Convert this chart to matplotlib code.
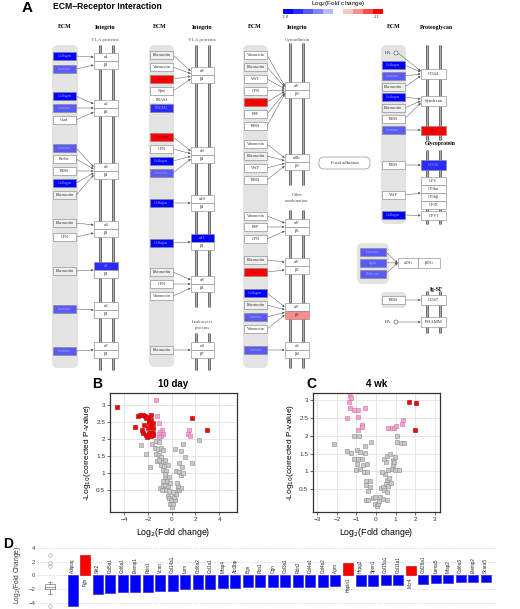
import matplotlib
matplotlib.use('Agg')
import matplotlib.pyplot as plt
import numpy as np
from matplotlib.patches import Rectangle, FancyBboxPatch, Circle
from matplotlib.colors import ListedColormap, BoundaryNorm

plt.rcParams['font.family'] = ['Liberation Sans', 'DejaVu Sans']

# ---------------- DATA ----------------
# Panel A colour key and log2 fold change of coloured pathway nodes
fc_min, fc_max = -2.8, 2.1
key_colors = ['#0000ff', '#2b2bff', '#5a5af5', '#8585f5', '#b8b8fa',
              '#ffffff', '#ffc4c4', '#ff8c8c', '#ff4a4a', '#ff0000']
fc_node = {'Collagen': -2.6, 'Laminin': -1.6, 'Tenascin': 2.0, 'FREM2': -2.0,
           'α5': -2.1, 'α11': -2.6, 'β8': 0.9, 'SV2': 2.0, 'CD36': -2.3,
           'Agrin': -1.6, 'Perlecan': -1.6}

# Panel B (10 day) volcano
b_red_x = [-4.62, 1.71, 2.94, -3.08, -2.86, -2.66, -2.44, -2.24, -2.04, -1.74, -2.16,
           -1.93, -1.71, -1.88, -1.60, -1.74, -1.54, -2.02, -2.30, -2.38, -2.16, -1.93,
           -1.74, -1.54, -2.10, -1.74, -1.54, -2.49]
b_red_y = [2.95, 2.63, 2.27, 2.35, 2.68, 2.71, 2.71, 2.68, 2.66, 2.71, 2.61,
           2.54, 2.56, 2.46, 2.48, 2.36, 2.34, 2.34, 2.41, 2.17, 2.12, 2.17,
           2.17, 2.17, 2.07, 2.09, 2.12, 2.26]
b_pink_x = [-1.30, -1.20, -1.10, -0.85, -0.95, -1.10, -0.75, -0.90, -1.05, 1.43, 1.40, 1.50]
b_pink_y = [3.15, 2.68, 2.48, 2.28, 2.20, 2.15, 2.15, 2.10, 2.05, 2.28, 2.14, 2.10]
b_gray_x = [-2.58, -2.16, -1.79, -1.32, -1.04, -1.65, -1.40, -1.18, -0.90, -0.70, -1.32,
            -1.09, -0.90, -1.26, -1.04, -0.76, -0.56, -0.87, -0.62, -0.28, -0.76, -0.48,
            -0.53, -0.70, -0.39, -0.98, -0.76, -0.56, -0.34, -0.84, -0.48, -0.20, -0.34,
            -0.20, -0.06, -0.14, 0.03, 0.14, 0.25, 0.22, 0.36, 0.14, 0.53, 0.64, 0.78,
            0.50, 0.42, 0.36, 0.64, 0.78, 0.92, 0.64, 0.87, 0.78, 0.92, 1.15, 1.71,
            2.27, 0.31, -0.14, -0.25, -0.53]
b_gray_y = [1.84, 1.56, 1.19, 1.95, 1.92, 1.87, 1.73, 1.70, 1.73, 1.68, 1.58,
            1.53, 1.48, 1.36, 1.38, 1.33, 1.40, 1.24, 1.21, 1.24, 1.09, 1.07,
            0.84, 0.79, 0.77, 0.58, 0.62, 0.65, 0.62, 0.52, 0.50, 0.48, 0.35,
            0.28, 0.21, 0.11, 0.03, 0.11, 0.21, 0.30, 0.40, 0.45, 0.55, 0.50, 0.58,
            0.62, 0.72, 1.07, 1.04, 0.94, 1.01, 1.30, 1.19, 1.66, 1.87, 1.48, 1.30,
            1.99, 1.70, 0.72, 0.89, 0.97]

# Panel C (4 wk) volcano
c_red_x = [1.69, 2.05, 2.00]
c_red_y = [2.96, 2.92, 2.16]
c_pink_x = [-1.37, -1.33, -1.13, -0.94, -0.56, -1.47, -0.91, -0.74, -0.70, -0.91,
            0.63, 0.80, 0.94, 1.03, 1.32, 1.40, -1.35, -1.30]
c_pink_y = [2.94, 2.79, 2.71, 2.73, 2.79, 2.50, 2.52, 2.29, 2.25, 2.15,
            2.22, 2.22, 2.22, 2.26, 2.32, 2.45, 3.12, 3.05]
c_gray_x = [-2.15, -1.47, -1.26, -1.13, -0.87, -0.96, -0.82, -0.55, -0.56, -0.26, -1.11,
            -0.94, -0.74, -0.99, -0.65, -0.48, -1.04, -0.82, -0.62, -0.44, -0.51, -0.31,
            -0.51, -0.31, -0.39, -0.51, -0.39, -0.17, -0.05, 0.03, 0.09, 0.17, 0.21,
            0.38, 0.55, -0.05, 0.24, 0.38, 0.41, 0.51, 0.63, 0.58, 0.75, 0.55, 0.68,
            0.46, 0.29, 0.63, 0.80, 0.97, 1.15, 0.85, 0.51, 0.41, 0.58, 0.72, 0.85,
            0.94, 0.97, 1.09, 1.06, 1.26, 1.44]
c_gray_y = [1.78, 1.57, 1.52, 1.98, 1.98, 1.59, 1.54, 1.52, 1.70, 1.82, 1.34,
            1.34, 1.36, 1.21, 1.17, 1.21, 1.05, 1.07, 0.98, 0.98, 0.72, 0.72,
            0.61, 0.56, 0.45, 0.21, 0.19, 0.26, 0.09, 0.02, 0.09, 0.17, 0.28,
            0.23, 0.21, 0.28, 0.54, 0.56, 0.47, 0.64, 0.58, 0.42, 0.67, 0.75, 0.82,
            0.93, 0.98, 1.05, 1.07, 1.03, 1.05, 1.17, 1.26, 1.36, 1.42, 1.50, 1.33,
            1.26, 1.40, 1.82, 1.98, 1.80, 1.80]

# Panel D bar chart
d_genes = ['Adipoq', 'Fgb', 'Slit2', 'Col5a1', 'Col6a1', 'Efemp1', 'Fbln1', 'Vcan',
           'Col14a1', 'Lum', 'Col6a2', 'Col1a1', 'Mfap4', 'Abi3bp', 'Bgn', 'Fbn1',
           'Ogn', 'Col3a1', 'Fbln2', 'Col4a1', 'Col4a2', 'Agrn', 'Hapln1', 'Hspg2',
           'Spon1', 'Col15a1', 'Col11a1', 'Mcr4', 'Col28a1', 'Lama5', 'Mfap2',
           'Col6a3', 'Efemp2', 'Scara5']
d_values = [-4.5, 3.0, -2.77, -2.62, -2.5, -2.38, -2.38, -2.28, -2.28, -2.03, -1.98,
            -1.98, -1.79, -1.79, -1.74, -1.74, -1.64, -1.64, -1.64, -1.64, -1.64, -1.54,
            1.79, -1.5, -1.5, -1.4, -1.4, 1.44, -1.3, -1.05, -1.05, -1.0, -1.0, -0.96]

# ---------------- FIGURE ----------------
SERIF = 'Liberation Serif'
fig = plt.figure(figsize=(5.2, 6.09), dpi=100)
ov = fig.add_axes([0, 0, 1, 1])
ov.set_xlim(0, 520)
ov.set_ylim(609, 0)
ov.axis('off')
ov.patch.set_alpha(0)

cmap = ListedColormap(key_colors)
norm = BoundaryNorm(np.linspace(fc_min, fc_max, 11), 10)


def fc_col(name, default='white'):
    if name in fc_node:
        return cmap(norm(fc_node[name]))
    if name == 'Fibronectin':
        return '#efefef'
    return default


def box(x0, y0, w, h, label, face='white', edge='#8a8a8a', fs=3.0, bold=False):
    ov.add_patch(Rectangle((x0, y0), w, h, facecolor=face, edgecolor=edge, lw=0.45, zorder=3))
    tc = '#333333'
    if not isinstance(face, str):
        r, g, b = face[:3]
        if b > 0.9 and r < 0.45:
            tc = '#a0a0ff'
        elif r > 0.9 and g < 0.45:
            tc = '#8a1010'
    ov.text(x0 + w / 2, y0 + h / 2 + 0.3, label, fontsize=fs, family=SERIF, ha='center',
            va='center', color=tc, zorder=4, fontweight='bold' if bold else 'normal')


def arrow(x0, y0, x1, y1):
    ov.annotate('', xy=(x1, y1), xytext=(x0, y0),
                arrowprops=dict(arrowstyle='-|>', color='#555555', lw=0.35,
                                mutation_scale=3.2, shrinkA=0, shrinkB=0), zorder=2)


def gray_col(x0, x1, y0, y1, r=6):
    ov.add_patch(FancyBboxPatch((x0, y0), x1 - x0, y1 - y0,
                                boxstyle='round,pad=0,rounding_size=%g' % r,
                                facecolor='#e3e3e3', edgecolor='none', zorder=1))


def int_lines(xa, xb, segs):
    for (y0, y1) in segs:
        for x in (xa, xb):
            ov.plot([x, x], [y0, y1], color='#5a5a5a', lw=2.0, zorder=1.5, solid_capstyle='butt')
            ov.plot([x, x], [y0, y1], color='#b0b0b0', lw=0.8, zorder=1.6, solid_capstyle='butt')


# title and colour key
ov.text(22, 7.5, 'A', fontsize=11, fontweight='bold', va='center', ha='left')
ov.text(53, 6.5, 'ECM–Receptor Interaction', fontsize=6.2, fontweight='bold', va='center', ha='left')
ov.text(338, 4, 'Log$_2$(Fold change)', fontsize=4.6, ha='center', va='center')
for i, c in enumerate(key_colors):
    ov.add_patch(Rectangle((283 + i * 10, 9), 10, 5, facecolor=c, edgecolor='none', zorder=3))
ov.text(285, 17.5, '-2.8', fontsize=3, ha='center', va='center', color='#444')
ov.text(377, 17.5, '2.1', fontsize=3, ha='center', va='center', color='#444')

# ---- integrin columns ----
cols = [
    dict(ecm_x=64.5, gray=(52, 78, 45, 368), lines=(100, 113), bx=(94, 118),
         segs=[(45, 370)], hdr=(65, 105, 'VLA proteins'),
         ecm=[('Collagen', 56), ('Laminin', 69), ('Collagen', 96), ('Laminin', 108), ('Chad', 120),
              ('Laminin', 148), ('Reelin', 159), ('THBS', 171), ('Collagen', 183),
              ('Fibronectin', 195), ('Fibronectin', 223), ('OPN', 237), ('Fibronectin', 271),
              ('Laminin', 309), ('Laminin', 351)],
         ints=[('α1', 'β1', 53, [0, 1]), ('α2', 'β1', 100, [2, 3, 4]),
               ('α3', 'β1', 163, [5, 6, 7, 8, 9]), ('α4', 'β1', 221, [10, 11]),
               ('α5', 'β1', 262, [12]), ('α6', 'β1', 302, [13]), ('α7', 'β1', 342, [14])]),
    dict(ecm_x=161.5, gray=(149, 174, 45, 367), lines=(196, 209), bx=(191, 214),
         segs=[(45, 307), (333, 370)], hdr=(160, 202, 'VLA proteins'),
         ecm=[('Fibronectin', 55), ('Vitronectin', 67), ('Tenascin', 79), ('Npnt', 91),
              ('FRAS1', 99.5), ('FREM2', 108), ('Tenascin', 137), ('OPN', 149), ('Collagen', 161),
              ('Laminin', 173), ('Collagen', 203), ('Collagen', 243), ('Fibronectin', 272),
              ('OPN', 284), ('Vitronectin', 296), ('Fibronectin', 350)],
         ints=[('α8', 'β1', 67, [0, 1, 2, 3]), ('α9', 'β1', 147, [6, 7, 8, 9]),
               ('α10', 'β1', 195, [10]), ('α11', 'β1', 234, [11]),
               ('αV', 'β1', 276, [12, 13, 14]), ('α4', 'β7', 342, [15])]),
    dict(ecm_x=255.5, gray=(243, 268, 45, 368), lines=(290, 303), bx=(285, 309),
         segs=[(43, 185), (210, 368)], hdr=(255, 297, 'Cytoadhesin'),
         ecm=[('Vitronectin', 55), ('Fibronectin', 67), ('VWF', 79), ('OPN', 91), ('Tenascin', 102),
              ('BSP', 114), ('THBS', 126), ('Vitronectin', 144), ('Fibronectin', 156), ('VWF', 168),
              ('THBS', 180), ('Vitronectin', 216), ('BSP', 227), ('OPN', 239), ('Fibronectin', 260),
              ('Tenascin', 272), ('Collagen', 293), ('Fibronectin', 305), ('Laminin', 317),
              ('Vitronectin', 329), ('Laminin', 350)],
         ints=[('αV', 'β3', 82, [0, 1, 2, 3, 4, 5, 6]), ('αIIb', 'β3', 154, [7, 8, 9, 10]),
               ('αV', 'β5', 219, [11, 12, 13]), ('αV', 'β6', 258, [14, 15]),
               ('αV', 'β8', 303, [16, 17, 18, 19]), ('α6', 'β4', 342, [20])]),
]

for c in cols:
    gx0, gx1, gy0, gy1 = c['gray']
    gray_col(gx0, gx1, gy0, gy1)
    int_lines(c['lines'][0], c['lines'][1], c['segs'])
    ex, ih, lab = c['hdr']
    ov.text(ex, 27, 'ECM', fontsize=4.2, family=SERIF, fontweight='bold', ha='center', va='center')
    ov.text(ih, 27.5, 'Integrin', fontsize=4.2, family=SERIF, fontweight='bold', ha='center', va='center')
    ov.text(ih, 39.5, lab, fontsize=3.6, family=SERIF, color='#555', ha='center', va='center')
    w = 23
    for name, y in c['ecm']:
        edge = 'none' if name == 'FRAS1' else '#8a8a8a'
        box(c['ecm_x'] - w / 2, y - 3.6, w, 7.2, name, face=fc_col(name), edge=edge, fs=2.9)
    bx0, bx1 = c['bx']
    for a, b, top, srcs in c['ints']:
        box(bx0, top, bx1 - bx0, 8, a, face=fc_col(a), fs=3.3)
        box(bx0, top + 8, bx1 - bx0, 8, b, face=fc_col(b), fs=3.3)
        n = len(srcs)
        tys = [top + 8] if n == 1 else np.linspace(top + 4, top + 12, n)
        for s, ty in zip(srcs, tys):
            sy = c['ecm'][s][1]
            if c['ecm'][s][0] == 'FRAS1':
                continue
            arrow(c['ecm_x'] + w / 2, sy, bx0 - 0.3, ty)

# labels between segments
ov.text(203, 321.5, 'Leukocytes', fontsize=3.4, family=SERIF, color='#555', ha='center', va='center')
ov.text(203, 327.5, 'proteins', fontsize=3.4, family=SERIF, color='#555', ha='center', va='center')
ov.text(297, 194.5, 'Other', fontsize=3.4, family=SERIF, color='#555', ha='center', va='center')
ov.text(297, 201, 'combination', fontsize=3.4, family=SERIF, color='#555', ha='center', va='center')
ov.add_patch(FancyBboxPatch((319, 157), 51, 12, boxstyle='round,pad=0,rounding_size=5',
                            facecolor='white', edgecolor='#888', lw=0.45, zorder=3))
ov.text(344.5, 163.3, 'Focal adhesion', fontsize=3.3, family=SERIF, ha='center', va='center', color='#333', zorder=4)

# ---- proteoglycan / glycoprotein column ----
EX = 393
ov.text(394, 27, 'ECM', fontsize=4.2, family=SERIF, fontweight='bold', ha='center', va='center')
ov.text(436, 27.5, 'Proteoglycan', fontsize=4.2, family=SERIF, fontweight='bold', ha='center', va='center')
gray_col(381, 406, 45, 224)
gray_col(357, 389, 243, 284)
gray_col(381, 406, 292, 308, r=4)
int_lines(427, 440, [(45, 140), (150, 224), (291, 333)])
PX0, PX1 = 421, 446


def ha_node(y):
    ov.text(388, y + 0.3, 'HA', fontsize=3.2, family=SERIF, ha='center', va='center', color='#333', zorder=4)
    ov.add_patch(Circle((396, y), 2.0, facecolor='white', edgecolor='#555', lw=0.45, zorder=4))


ha_node(53)
col4_ecm = [('Collagen', 65), ('Laminin', 76), ('Fibronectin', 87), ('Collagen', 97),
            ('Fibronectin', 108), ('THBS', 119), ('Laminin', 130), ('THBS', 165),
            ('VWF', 195), ('Collagen', 215), ('THBS', 300)]
for name, y in col4_ecm:
    box(EX - 11.5, y - 3.6, 23, 7.2, name, face=fc_col(name), fs=2.9)

box(PX0, 69, PX1 - PX0, 10, 'CD44', fs=3.3)
box(PX0, 96, PX1 - PX0, 10, 'Syndecan', fs=3.3)
box(PX0, 125.5, PX1 - PX0, 9.5, 'SV2', face=fc_col('SV2'), fs=3.3)
ov.text(440, 144, 'Glycoprotein', fontsize=4.0, family=SERIF, fontweight='bold', ha='center', va='center')
box(PX0, 160, PX1 - PX0, 10, 'CD36', face=fc_col('CD36'), fs=3.3)
for i, g in enumerate(['GPV', 'GPIbα', 'GPIbβ', 'GPIX']):
    box(PX0, 177 + 8 * i, PX1 - PX0, 8, g, fs=3.1)
box(PX0, 211, PX1 - PX0, 9, 'GPVI', fs=3.1)
for i, g in enumerate(['Laminin', 'Agrin', 'Perlecan']):
    box(359.5, 248 + 11 * i, 26, 7.5, g, face=fc_col(g), fs=2.9)
box(398, 258, 20, 10, 'αDG', fs=3.3)
box(418, 258, 22, 10, 'βDG', fs=3.3)
ov.text(436, 289, 'Ig-SF', fontsize=4.0, family=SERIF, fontweight='bold', ha='center', va='center')
box(PX0, 295, PX1 - PX0, 10, 'CD47', fs=3.3)
box(PX0, 317, PX1 - PX0, 10, 'RHAMM', fs=3.3)
ha_node(322)

# connections col4
for sy, ty in [(53, 71), (65, 72), (76, 74), (87, 76)]:
    arrow(398 if sy in (53,) else EX + 11.5, sy, PX0 - 0.3, ty)
for sy, ty in [(97, 99), (108, 101), (119, 103)]:
    arrow(EX + 11.5, sy, PX0 - 0.3, ty)
arrow(EX + 11.5, 130, PX0 - 0.3, 130)
arrow(EX + 11.5, 165, PX0 - 0.3, 165)
arrow(EX + 11.5, 195, PX0 - 0.3, 193)
arrow(EX + 11.5, 215, PX0 - 0.3, 215.5)
for i in range(3):
    arrow(385.5, 251.8 + 11 * i, 397.7, 263)
arrow(EX + 11.5, 300, PX0 - 0.3, 300)
arrow(398, 322, PX0 - 0.3, 322)

# ---------------- VOLCANOS ----------------


def volcano(rect, gx, gy, px, py, rx, ry, xlim, ylim, xticks, yticks, ylabels):
    ax = fig.add_axes(rect)
    ax.set_axisbelow(True)
    ax.grid(True, color='#e2e2e2', lw=0.6)
    ms = 10
    ax.scatter(gx, gy, marker='s', s=ms, facecolor='#c8c8c8', edgecolor='#8c8c8c', lw=0.4, zorder=3)
    ax.scatter(px, py, marker='s', s=ms, facecolor='#f3a3cf', edgecolor='#cf6fa5', lw=0.4, zorder=3)
    ax.scatter(rx, ry, marker='s', s=ms, facecolor='#ff0000', edgecolor='#b00000', lw=0.4, zorder=4)
    ax.set_xlim(*xlim)
    ax.set_ylim(*ylim)
    ax.set_xticks(xticks)
    ax.set_yticks(yticks)
    ax.set_yticklabels(ylabels)
    ax.tick_params(labelsize=4.6, length=2, width=0.5, pad=1.5, colors='#333')
    for sp in ax.spines.values():
        sp.set_color('#333')
        sp.set_linewidth(0.9)
    ax.set_xlabel('Log$_2$(Fold change)', fontsize=6.3, labelpad=3)
    ax.set_ylabel('-Log$_{10}$(corrected P-value)', fontsize=6.0, labelpad=2)
    return ax


H = 609.0
W = 520.0
volcano([110 / W, 1 - 512 / H, 127 / W, 119 / H], b_gray_x, b_gray_y, b_pink_x, b_pink_y,
        b_red_x, b_red_y, (-5.2, 5.5), (-0.13, 3.35), [-4, -2, 0, 2, 4],
        [0.5, 1, 1.5, 2, 2.5, 3], ['0.5', '1', '1.5', '2', '2.5', '3'])
volcano([313 / W, 1 - 512 / H, 127 / W, 119 / H], c_gray_x, c_gray_y, c_pink_x, c_pink_y,
        c_red_x, c_red_y, (-3.22, 3.27), (-0.14, 3.2), [-3, -2, -1, 0, 1, 2, 3],
        [0.5, 1, 1.5, 2, 2.5, 3], ['0.5', '1', '1.5', '2', '2.5', '3'])
ov.text(92, 384, 'B', fontsize=10, fontweight='bold', ha='left', va='center')
ov.text(173, 384, '10 day', fontsize=7, fontweight='bold', ha='center', va='center')
ov.text(306, 384, 'C', fontsize=10, fontweight='bold', ha='left', va='center')
ov.text(377, 384, '4 wk', fontsize=7, fontweight='bold', ha='center', va='center')

# ---------------- BAR CHART ----------------
axD = fig.add_axes([38 / W, 0, (497 - 38) / W, (609 - 540) / H])
pos = np.arange(len(d_values))
cols_d = ['#ff0000' if v > 0 else '#0000ff' for v in d_values]
edges_d = ['#b00000' if v > 0 else '#2020c0' for v in d_values]
axD.bar(pos, d_values, width=0.8, color=cols_d, edgecolor=edges_d, lw=0.4, zorder=3)
for p, g, v in zip(pos, d_genes, d_values):
    if v < 0:
        axD.text(p, 0.3, g, rotation=90, fontsize=3.3, ha='center', va='bottom', color='#222')
    else:
        axD.text(p, -0.3, g, rotation=90, fontsize=3.3, ha='center', va='top', color='#222')
axD.boxplot(d_values, positions=[-1.8], widths=0.75, manage_ticks=False,
            flierprops=dict(marker='o', markersize=2.6, markerfacecolor='none',
                            markeredgecolor='#9a9a9a', markeredgewidth=0.4),
            boxprops=dict(color='#555', lw=0.4), whiskerprops=dict(color='#555', lw=0.4),
            capprops=dict(color='#555', lw=0.4), medianprops=dict(color='#555', lw=0.4))
axD.set_xlim(-2.76, 33.9)
axD.set_ylim(-4.93, 5.22)
axD.set_yticks([-4, -2, 0, 2, 4])
axD.set_xticks([])
axD.grid(axis='y', ls=(0, (1, 1.5)), color='#c0c0c0', lw=0.5)
axD.set_axisbelow(True)
for sp in axD.spines.values():
    sp.set_visible(False)
axD.tick_params(axis='y', labelsize=4.3, length=0, pad=2, colors='#444')
axD.set_ylabel('Log$_2$(Fold Change)', fontsize=4.8, labelpad=4, color='#333')
axD.patch.set_alpha(0)
ov.text(3, 544, 'D', fontsize=10, fontweight='bold', ha='left', va='center')

fig.savefig('out.png', dpi=100)
